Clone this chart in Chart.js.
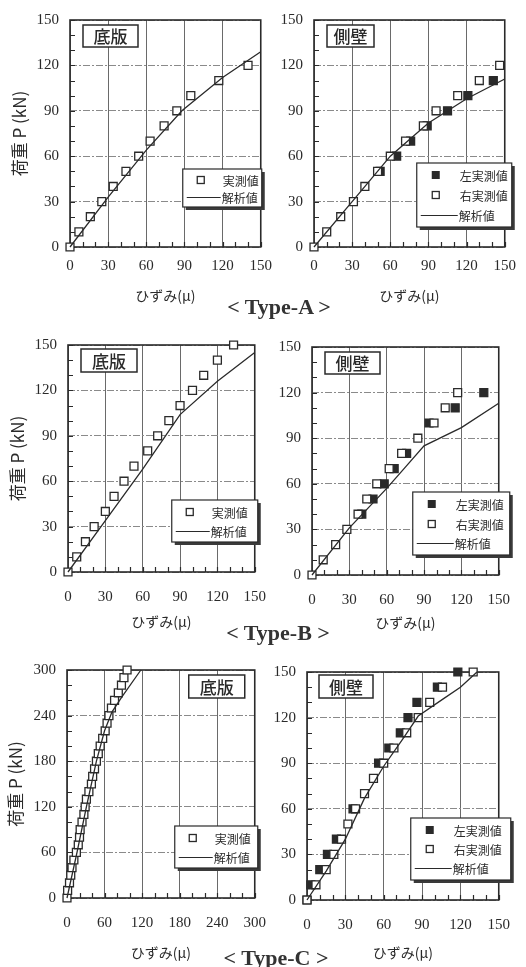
<!DOCTYPE html>
<html><head><meta charset="utf-8">
<script src="https://cdn.jsdelivr.net/npm/chart.js@4.4.1/dist/chart.umd.min.js"></script>
<style>
html,body{margin:0;padding:0;background:#fff;}
body{width:526px;height:967px;position:relative;overflow:hidden;}
canvas{position:absolute;}
.type{position:absolute;font-family:"Liberation Serif",serif;font-weight:bold;font-size:22px;color:#333;white-space:nowrap;transform:translate(-50%,-50%);line-height:1;}
</style></head><body>
<canvas id="c1" width="282" height="305" style="left:0px;top:0px"></canvas>
<canvas id="c2" width="254" height="305" style="left:272px;top:0px"></canvas>
<canvas id="c3" width="282" height="330" style="left:0px;top:310px"></canvas>
<canvas id="c4" width="254" height="330" style="left:272px;top:310px"></canvas>
<canvas id="c5" width="282" height="327" style="left:0px;top:640px"></canvas>
<canvas id="c6" width="254" height="327" style="left:272px;top:640px"></canvas>
<div class="type" style="left:279px;top:307px">&lt; Type-A &gt;</div>
<div class="type" style="left:278px;top:633px">&lt; Type-B &gt;</div>
<div class="type" style="left:276px;top:958px">&lt; Type-C &gt;</div>
<script>
// ---------- tick labels ----------
const ticks150 = [0, 30, 60, 90, 120, 150];
const ticks300 = [0, 60, 120, 180, 240, 300];

// ---------- Type-A 底版 ----------
const A_slabMeasX = [0, 7, 16, 25, 34, 44, 54, 63, 74, 84, 95, 117, 140];
const A_slabMeasY = [0, 10, 20, 30, 40, 50, 60, 70, 80, 90, 100, 110, 120];
const A_slabCalcX = [0, 30, 60, 88, 120, 150];
const A_slabCalcY = [0, 33, 64, 90, 112, 129];

// ---------- Type-A 側壁 ----------
const A_wallRightX = [0, 10, 21, 31, 40, 50, 60, 72, 86, 96, 113, 130, 146];
const A_wallRightY = [0, 10, 20, 30, 40, 50, 60, 70, 80, 90, 100, 110, 120];
const A_wallLeftX = [52, 65, 76, 89, 105, 121, 141];
const A_wallLeftY = [50, 60, 70, 80, 90, 100, 110];
const A_wallCalcX = [0, 30, 60, 90, 120, 150];
const A_wallCalcY = [0, 30, 60, 82, 98, 111];

// ---------- Type-B 底版 ----------
const B_slabMeasX = [0, 7, 14, 21, 30, 37, 45, 53, 64, 72, 81, 90, 100, 109, 120, 133];
const B_slabMeasY = [0, 10, 20, 30, 40, 50, 60, 70, 80, 90, 100, 110, 120, 130, 140, 150];
const B_slabCalcX = [0, 30, 60, 90, 120, 150];
const B_slabCalcY = [0, 34, 68, 104, 126, 145];

// ---------- Type-B 側壁 ----------
const B_wallRightX = [0, 9, 19, 28, 37, 44, 52, 62, 72, 85, 98, 107, 117];
const B_wallRightY = [0, 10, 20, 30, 40, 50, 60, 70, 80, 90, 100, 110, 120];
const B_wallLeftX = [40, 49, 58, 66, 76, 94, 115, 138];
const B_wallLeftY = [40, 50, 60, 70, 80, 100, 110, 120];
const B_wallCalcX = [0, 30, 60, 75, 90, 120, 150];
const B_wallCalcY = [0, 31, 57, 71, 85, 97, 113];

// ---------- Type-C 底版 ----------
const C_slabMeasX = [0, 1, 4, 6, 8, 11, 15, 18, 20, 21, 24, 27, 29, 31, 35, 39, 41, 44, 47, 50, 53, 57, 61, 64, 67, 71, 76, 82, 87, 91, 96];
const C_slabMeasY = [0, 10, 20, 30, 40, 50, 60, 70, 80, 90, 100, 110, 120, 130, 140, 150, 160, 170, 180, 190, 200, 210, 220, 230, 240, 250, 260, 270, 280, 290, 300];
const C_slabCalcX = [0, 16, 31, 47, 60, 72, 88, 118];
const C_slabCalcY = [0, 60, 120, 180, 220, 245, 265, 300];

// ---------- Type-C 側壁 ----------
const C_wallRightX = [0, 7, 15, 21, 27, 32, 38, 45, 52, 60, 68, 78, 87, 96, 106, 130];
const C_wallRightY = [0, 10, 20, 30, 40, 50, 60, 70, 80, 90, 100, 110, 120, 130, 140, 150];
const C_wallLeftX = [0, 3, 10, 16, 23, 36, 56, 64, 73, 79, 86, 102, 118];
const C_wallLeftY = [0, 10, 20, 30, 40, 60, 90, 100, 110, 120, 130, 140, 150];
const C_wallCalcX = [0, 15, 30, 45, 60, 75, 87, 106, 120, 133];
const C_wallCalcY = [0, 19, 40, 67, 88, 106, 121, 132, 140, 150];

// ---------- text ----------
const xTitle = 'ひずみ(μ)';
const yTitle = '荷重 P (kN)';
const slabLabel = '底版';
const wallLabel = '側壁';
const legendSlab = [{t:'open', s:'実測値'}, {t:'line', s:'解析値'}];
const legendWall = [{t:'filled', s:'左実測値'}, {t:'open', s:'右実測値'}, {t:'line', s:'解析値'}];

const INK = '#2a2a2a';
const pts = (xs, ys) => xs.map((x, i) => ({x, y: ys[i]}));

const decoPlugin = {
  id: 'deco',
  beforeDatasetsDraw(chart) {
    const d = chart.options.plugins.deco; if (!d) return;
    const {ctx, chartArea: a, scales: {x, y}} = chart;
    ctx.save();
    ctx.strokeStyle = INK; ctx.lineWidth = 1.2;
    ctx.beginPath();
    for (let v = x.min; v <= x.max + 1e-9; v += d.minor) {
      const px = Math.round(x.getPixelForValue(v)) + 0.5;
      ctx.moveTo(px, a.bottom); ctx.lineTo(px, a.bottom - 5);
    }
    for (let v = y.min; v <= y.max + 1e-9; v += d.minor) {
      const py = Math.round(y.getPixelForValue(v)) + 0.5;
      ctx.moveTo(a.left, py); ctx.lineTo(a.left + 5, py);
    }
    ctx.stroke();
    ctx.lineWidth = 1.6;
    ctx.strokeRect(a.left, a.top, a.right - a.left, a.bottom - a.top);
    ctx.restore();
  },
  afterDraw(chart) {
    const d = chart.options.plugins.deco; if (!d) return;
    const {ctx, chartArea: a} = chart;
    ctx.save();
    // label box
    const lb = d.label;
    const lx = lb.anchor === 'right' ? a.right - lb.dx - lb.w : a.left + lb.dx;
    const ly = a.top + lb.dy;
    ctx.fillStyle = '#fff'; ctx.fillRect(lx, ly, lb.w, lb.h);
    ctx.strokeStyle = INK; ctx.lineWidth = 1.5; ctx.strokeRect(lx, ly, lb.w, lb.h);
    ctx.fillStyle = INK; ctx.font = '500 17px "Noto Sans CJK JP"';
    ctx.textAlign = 'center'; ctx.textBaseline = 'middle';
    ctx.fillText(lb.text, lx + lb.w / 2, ly + lb.h / 2 + 1);
    // legend
    const L = d.legend;
    const bx = a.right + L.right - L.w, by = a.bottom - L.gap - L.h;
    ctx.fillStyle = '#3a3a3a'; ctx.fillRect(bx + 3, by + 3, L.w, L.h);
    ctx.fillStyle = '#fff'; ctx.fillRect(bx, by, L.w, L.h);
    ctx.strokeStyle = INK; ctx.lineWidth = 1.2; ctx.strokeRect(bx, by, L.w, L.h);
    const rowH = (L.h - 4) / L.items.length;
    ctx.font = '12px "Noto Sans CJK JP"'; ctx.textAlign = 'left'; ctx.textBaseline = 'middle';
    L.items.forEach((it, i) => {
      const cy = Math.round(by + 2 + rowH * (i + 0.5));
      if (it.t === 'line') {
        ctx.beginPath(); ctx.lineWidth = 1.2; ctx.strokeStyle = INK;
        ctx.moveTo(bx + 4, cy + 0.5); ctx.lineTo(bx + L.textX - 2, cy + 0.5); ctx.stroke();
      } else {
        const mx = bx + L.markX;
        if (it.t === 'filled') { ctx.fillStyle = INK; ctx.fillRect(mx - 4, cy - 4, 8, 8); }
        else { ctx.fillStyle = '#fff'; ctx.fillRect(mx - 4, cy - 4, 8, 8);
               ctx.strokeStyle = INK; ctx.lineWidth = 1.3; ctx.strokeRect(mx - 3.5, cy - 3.5, 7, 7); }
      }
      ctx.fillStyle = INK;
      ctx.fillText(it.s, bx + (it.t === 'line' ? L.textX - 1 : L.textX), cy + 1);
    });
    ctx.restore();
  }
};

function makeChart(id, o) {
  const datasets = [];
  datasets.push({data: pts(o.calcX, o.calcY), showLine: true, pointRadius: 0, borderColor: INK, borderWidth: 1.3, tension: 0, fill: false, clip: false});
  o.meas.forEach(m => {
    datasets.push({data: pts(m.x, m.y), showLine: false, pointStyle: 'rect', pointRadius: 5.6,
      pointBorderWidth: 1.3, pointBorderColor: INK, pointBackgroundColor: m.filled ? INK : '#fff', clip: false});
  });
  const tickFont = {family: '"Liberation Serif"', size: 15};
  new Chart(document.getElementById(id), {
    type: 'scatter',
    data: {datasets},
    options: {
      responsive: false, animation: false, devicePixelRatio: 1, events: [],
      layout: {padding: {left: 0, top: o.padTop, right: o.padRight, bottom: 0}},
      scales: {
        x: {type: 'linear', min: 0, max: o.max,
          afterBuildTicks: s => { s.ticks = o.ticks.map(v => ({value: v})); },
          afterFit: s => { s.height = o.xH; },
          grid: {color: '#6a6a6a', lineWidth: 1, drawTicks: false},
          border: {display: false},
          ticks: {padding: o.xTickPad, color: INK, font: tickFont, maxRotation: 0, autoSkip: false},
          title: {display: true, text: xTitle, color: INK, font: {family: '"Noto Sans CJK JP"', size: 14}, padding: {top: 0, bottom: o.xTitlePad}}
        },
        y: {type: 'linear', min: 0, max: o.max,
          afterBuildTicks: s => { s.ticks = o.ticks.map(v => ({value: v})); },
          afterFit: s => { s.width = o.yW; },
          grid: {color: '#8a8a8a', lineWidth: 1, drawTicks: false},
          border: {display: false, dash: [7, 2, 2, 2]},
          ticks: {padding: 11, color: INK, font: tickFont, autoSkip: false},
          title: {display: o.yTitle, text: yTitle, color: INK, font: {family: '"Noto Sans CJK JP"', size: 17}, padding: {top: o.yTitlePad || 0, bottom: 0}}
        }
      },
      plugins: {
        legend: {display: false}, tooltip: {enabled: false},
        deco: {minor: o.max / 15, label: o.label, legend: o.legend}
      }
    },
    plugins: [decoPlugin]
  });
}

const slabLegend = (w, h, right, gap) => ({items: legendSlab, w, h, right, gap, markX: 18, textX: 40});
const wallLegend = (w, h, right, gap) => ({items: legendWall, w, h, right, gap, markX: 19, textX: 43});

// Type-A
makeChart('c1', {max: 150, ticks: ticks150, calcX: A_slabCalcX, calcY: A_slabCalcY,
  meas: [{x: A_slabMeasX, y: A_slabMeasY, filled: false}],
  padTop: 18, padRight: 15, yW: 70, xH: 58, xTickPad: 10, xTitlePad: 1, yTitle: true, yTitlePad: 9,
  label: {text: slabLabel, anchor: 'left', dx: 13, dy: 5, w: 55, h: 22},
  legend: slabLegend(79, 38, 1, 40)});
makeChart('c2', {max: 150, ticks: ticks150, calcX: A_wallCalcX, calcY: A_wallCalcY,
  meas: [{x: A_wallRightX, y: A_wallRightY, filled: false}, {x: A_wallLeftX, y: A_wallLeftY, filled: true}],
  padTop: 18, padRight: 15, yW: 42, xH: 58, xTickPad: 10, xTitlePad: 1, yTitle: false,
  label: {text: wallLabel, anchor: 'left', dx: 13, dy: 5, w: 47, h: 22},
  legend: wallLegend(95, 64, 7, 20)});
// Type-B
makeChart('c3', {max: 150, ticks: ticks150, calcX: B_slabCalcX, calcY: B_slabCalcY,
  meas: [{x: B_slabMeasX, y: B_slabMeasY, filled: false}],
  padTop: 35, padRight: 15, yW: 68, xH: 68, xTickPad: 16, xTitlePad: 10, yTitle: true, yTitlePad: 7,
  label: {text: slabLabel, anchor: 'left', dx: 13, dy: 4, w: 56, h: 23},
  legend: slabLegend(86, 42, 3, 30)});
makeChart('c4', {max: 150, ticks: ticks150, calcX: B_wallCalcX, calcY: B_wallCalcY,
  meas: [{x: B_wallRightX, y: B_wallRightY, filled: false}, {x: B_wallLeftX, y: B_wallLeftY, filled: true}],
  padTop: 37, padRight: 16, yW: 40, xH: 65, xTickPad: 16, xTitlePad: 9, yTitle: false,
  label: {text: wallLabel, anchor: 'left', dx: 13, dy: 5, w: 55, h: 22},
  legend: wallLegend(97, 63, 11, 20)});
// Type-C
makeChart('c5', {max: 300, ticks: ticks300, calcX: C_slabCalcX, calcY: C_slabCalcY,
  meas: [{x: C_slabMeasX, y: C_slabMeasY, filled: false}],
  padTop: 30, padRight: 17, yW: 67, xH: 69, xTickPad: 16, xTitlePad: 6, yTitle: true, yTitlePad: 5,
  label: {text: slabLabel, anchor: 'right', dx: 10, dy: 5, w: 56, h: 23},
  legend: slabLegend(83, 42, 3, 30)});
makeChart('c6', {max: 150, ticks: ticks150, calcX: C_wallCalcX, calcY: C_wallCalcY,
  meas: [{x: C_wallRightX, y: C_wallRightY, filled: false}, {x: C_wallLeftX, y: C_wallLeftY, filled: true}],
  padTop: 32, padRight: 21, yW: 35, xH: 67, xTickPad: 16, xTitlePad: 6, yTitle: false,
  label: {text: wallLabel, anchor: 'left', dx: 12, dy: 3, w: 54, h: 23},
  legend: wallLegend(100, 62, 12, 20)});
</script>
</body></html>
